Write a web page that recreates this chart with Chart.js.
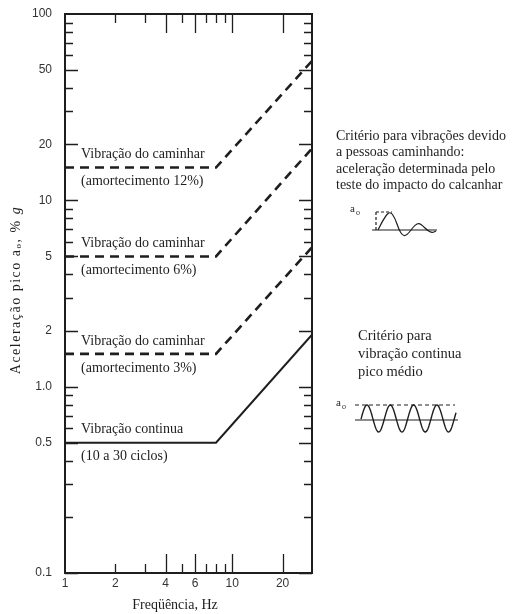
<!DOCTYPE html>
<html>
<head>
<meta charset="utf-8">
<script src="https://cdn.jsdelivr.net/npm/chart.js@4.4.1/dist/chart.umd.min.js"></script>
<style>
html, body { margin: 0; padding: 0; background: #fff; }
</style>
</head>
<body>
<canvas id="vibChart" width="518" height="614"></canvas>
<script>
// values (log-log, flat up to 8 Hz then rising with frequency)
var freq = [1, 8, 30];
var walk12 = [15, 15, 56];
var walk6 = [5, 5, 19];
var walk3 = [1.5, 1.5, 5.6];
var continuous = [0.5, 0.5, 1.9];

var yTicks = [0.1, 0.5, 1, 2, 5, 10, 20, 50, 100];
var yTickLabels = ['0.1', '0.5', '1.0', '2', '5', '10', '20', '50', '100'];
var xTicks = [1, 2, 4, 6, 10, 20];
var xLongTicks = [4, 6, 10, 20];

function pts(ys) {
    return freq.map(function(f, i) { return { x: f, y: ys[i] }; });
}

var ink = '#1e1e1e';
var serif = '"Liberation Serif", "Times New Roman", serif';

// draws pieces of text one after another, [text, font, dy]
function drawRun(ctx, parts, x, y) {
    var total = 0;
    parts.forEach(function(p) { ctx.font = p[1]; total += ctx.measureText(p[0]).width; });
    var cx = x - total / 2;
    parts.forEach(function(p) {
        ctx.font = p[1];
        ctx.fillText(p[0], cx, y + (p[2] || 0));
        cx += ctx.measureText(p[0]).width;
    });
}

// frame + inward ticks on all four sides, and the text notes
var framePlugin = {
    id: 'framePlugin',
    afterDraw: function(chart) {
        var ctx = chart.ctx, a = chart.chartArea;
        var xs = chart.scales.x, ys = chart.scales.y;
        ctx.save();
        ctx.strokeStyle = ink;
        ctx.lineWidth = 1.3;
        // y minor/major ticks, left and right
        for (var e = -1; e <= 1; e++) {
            for (var m = 1; m <= 9; m++) {
                var v = m * Math.pow(10, e);
                var py = Math.round(ys.getPixelForValue(v)) + 0.5;
                var big = yTicks.some(function(t) { return Math.abs(t - v) < 1e-9; });
                var len = big ? 13 : 8;
                ctx.beginPath();
                ctx.moveTo(a.left, py); ctx.lineTo(a.left + len, py);
                ctx.moveTo(a.right, py); ctx.lineTo(a.right - len, py);
                ctx.stroke();
            }
        }
        // x ticks, bottom and top
        [2, 3, 4, 5, 6, 7, 8, 9, 10, 20].forEach(function(v) {
            var px = Math.round(xs.getPixelForValue(v)) + 0.5;
            var len = xLongTicks.indexOf(v) >= 0 ? 19 : 9;
            ctx.beginPath();
            ctx.moveTo(px, a.bottom); ctx.lineTo(px, a.bottom - len);
            ctx.moveTo(px, a.top); ctx.lineTo(px, a.top + len);
            ctx.stroke();
        });
        // box
        ctx.lineWidth = 2;
        ctx.strokeRect(a.left, a.top, a.right - a.left, a.bottom - a.top);

        ctx.fillStyle = ink;
        ctx.textBaseline = 'middle';
        ctx.textAlign = 'left';

        // axis titles
        drawRun(ctx, [['Freqüência, Hz', '14px ' + serif]], 175, 605);
        ctx.save();
        ctx.translate(16, 290);
        ctx.rotate(-Math.PI / 2);
        ctx.letterSpacing = '1.5px';
        drawRun(ctx, [
            ['Aceleração pico a', '14px ' + serif],
            ['o', '9px ' + serif, 3],
            [', % ', '14px ' + serif],
            ['g', 'italic 14px ' + serif]
        ], 0, 0);
        ctx.restore();

        // labels next to each line
        ctx.font = '14px ' + serif;
        var notes = [
            [walk12[0], 'Vibração do caminhar', '(amortecimento 12%)'],
            [walk6[0], 'Vibração do caminhar', '(amortecimento 6%)'],
            [walk3[0], 'Vibração do caminhar', '(amortecimento 3%)'],
            [continuous[0], 'Vibração continua', '(10 a 30 ciclos)']
        ];
        notes.forEach(function(n) {
            var ly = ys.getPixelForValue(n[0]);
            ctx.fillText(n[1], 81, ly - 13);
            ctx.fillText(n[2], 81, ly + 14);
        });

        // right side notes
        ctx.font = '14px ' + serif;
        ['Critério para vibrações devido', 'a pessoas caminhando:',
         'aceleração determinada pelo', 'teste do impacto do calcanhar'].forEach(function(t, i) {
            ctx.fillText(t, 336, 136 + i * 16.5);
        });
        ctx.font = '14.5px ' + serif;
        ['Critério para', 'vibração continua', 'pico médio'].forEach(function(t, i) {
            ctx.fillText(t, 358, 336 + i * 18);
        });

        // little sketches: heel impact pulse
        ctx.font = '11px ' + serif;
        ctx.fillText('a', 350, 209);
        ctx.font = '8px ' + serif;
        ctx.fillText('o', 356, 213);
        ctx.lineWidth = 1.2;
        ctx.beginPath();
        ctx.moveTo(372, 230); ctx.lineTo(437, 230);
        ctx.stroke();
        ctx.setLineDash([3, 2]);
        ctx.beginPath();
        ctx.moveTo(376, 212); ctx.lineTo(392, 212);
        ctx.moveTo(376, 212); ctx.lineTo(376, 230);
        ctx.stroke();
        ctx.setLineDash([]);
        var p = [[378, 230], [384, 218], [390, 211], [395, 218], [399, 230], [403, 236],
                 [407, 235], [411, 230], [415, 225], [419, 223], [423, 226], [427, 230],
                 [432, 233], [436, 231]];
        ctx.beginPath();
        ctx.moveTo(p[0][0], p[0][1]);
        for (var i = 1; i < p.length - 1; i++) {
            var mx = (p[i][0] + p[i + 1][0]) / 2, my = (p[i][1] + p[i + 1][1]) / 2;
            ctx.quadraticCurveTo(p[i][0], p[i][1], mx, my);
        }
        ctx.lineTo(p[p.length - 1][0], p[p.length - 1][1]);
        ctx.stroke();

        // continuous vibration sketch
        ctx.font = '11px ' + serif;
        ctx.fillText('a', 336, 403);
        ctx.font = '8px ' + serif;
        ctx.fillText('o', 342, 407);
        ctx.setLineDash([4, 3]);
        ctx.beginPath();
        ctx.moveTo(355, 405); ctx.lineTo(455, 405);
        ctx.stroke();
        ctx.setLineDash([]);
        ctx.beginPath();
        ctx.moveTo(355, 420); ctx.lineTo(458, 420);
        ctx.stroke();
        ctx.lineWidth = 1.4;
        ctx.beginPath();
        for (var x = 361; x <= 456; x += 0.5) {
            var y = 418.5 - 13.5 * Math.cos(2 * Math.PI * (x - 367) / 23.3);
            if (x == 361) ctx.moveTo(x, y); else ctx.lineTo(x, y);
        }
        ctx.stroke();
        ctx.restore();
    }
};

Chart.defaults.font.family = '"Liberation Sans", Arial, sans-serif';
Chart.defaults.color = '#333';

var dashed = [9, 6];
new Chart(document.getElementById('vibChart').getContext('2d'), {
    type: 'line',
    data: {
        datasets: [
            { label: '12%', data: pts(walk12), borderColor: ink, borderWidth: 2.6, borderDash: dashed },
            { label: '6%', data: pts(walk6), borderColor: ink, borderWidth: 2.6, borderDash: dashed },
            { label: '3%', data: pts(walk3), borderColor: ink, borderWidth: 2.6, borderDash: dashed },
            { label: 'continua', data: pts(continuous), borderColor: ink, borderWidth: 2 }
        ]
    },
    options: {
        responsive: false,
        animation: false,
        devicePixelRatio: 1,
        pointRadius: 0,
        tension: 0,
        layout: { padding: { top: 14, right: 206, bottom: 0, left: 0 } },
        plugins: { legend: { display: false }, tooltip: { enabled: false } },
        scales: {
            x: {
                type: 'logarithmic',
                min: 1, max: 30,
                grid: { display: false, drawTicks: false },
                border: { display: false },
                afterBuildTicks: function(s) { s.ticks = xTicks.map(function(v) { return { value: v }; }); },
                afterFit: function(s) { s.height = 41; s.paddingLeft = 0; s.paddingRight = 0; },
                ticks: {
                    padding: 3, font: { size: 12 }, maxRotation: 0, autoSkip: false,
                    callback: function(v) { return String(v); }
                }
            },
            y: {
                type: 'logarithmic',
                min: 0.1, max: 100,
                grid: { display: false, drawTicks: false },
                border: { display: false },
                afterBuildTicks: function(s) { s.ticks = yTicks.map(function(v) { return { value: v }; }); },
                afterFit: function(s) { s.width = 65; s.paddingTop = 0; s.paddingBottom = 0; },
                ticks: {
                    padding: 13, font: { size: 12 }, autoSkip: false,
                    callback: function(v, i) { return yTickLabels[i]; }
                }
            }
        }
    },
    plugins: [framePlugin]
});
</script>
</body>
</html>
